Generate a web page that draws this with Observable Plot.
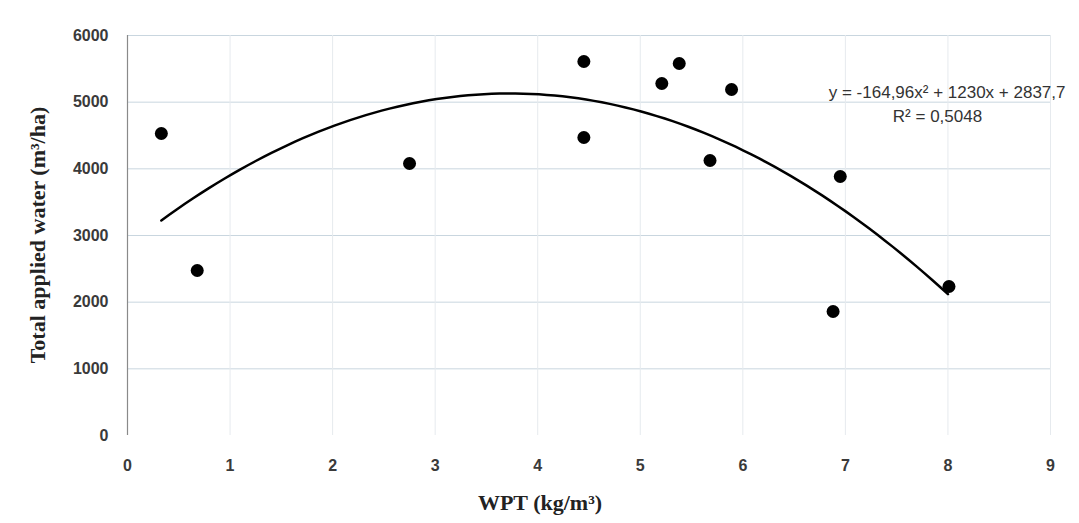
<!DOCTYPE html>
<html>
<head>
<meta charset="utf-8">
<script src="https://cdn.jsdelivr.net/npm/d3@7"></script>
<script src="https://cdn.jsdelivr.net/npm/@observablehq/plot@0.6"></script>
<style>
  html, body { margin: 0; padding: 0; background: #fff; }
  #chart { width: 1079px; height: 523px; }
</style>
</head>
<body>
<div id="chart"></div>
<script>
// Data
const wpt   = [0.33, 0.68, 2.75, 4.45, 4.45, 5.21, 5.38, 5.68, 5.89, 6.95, 6.88, 8.01];
const water = [4530, 2475, 4080, 5610, 4470, 5280, 5580, 4125, 5190, 3885, 1860, 2235];

// Trendline coefficients shown on the chart: y = a x² + b x + c
const trendCoef = [-164.96, 1230, 2837.7];
const trendRange = [0.33, 8.0];

const xTicks = [0, 1, 2, 3, 4, 5, 6, 7, 8, 9];
const yTicks = [0, 1000, 2000, 3000, 4000, 5000, 6000];

const eqLabel = "y = -164,96x² + 1230x + 2837,7";
const r2Label = "R² = 0,5048";

const points = wpt.map((x, i) => ({x, y: water[i]}));
const curve = d3.range(0, 101).map(i => {
  const x = trendRange[0] + (trendRange[1] - trendRange[0]) * i / 100;
  return {x, y: trendCoef[0] * x * x + trendCoef[1] * x + trendCoef[2]};
});

const tickFont = "'Liberation Sans', 'DejaVu Sans', sans-serif";

const chart = Plot.plot({
  width: 1079,
  height: 523,
  marginLeft: 127,
  marginRight: 29,
  marginTop: 35,
  marginBottom: 88,
  style: {background: "#fff", fontFamily: tickFont, fontSize: "15px", color: "#404040"},
  x: {domain: [0, 9], ticks: xTicks, label: null},
  y: {domain: [0, 6000], ticks: yTicks, label: null},
  marks: [
    Plot.gridY(yTicks.filter(d => d > 0), {stroke: "#c9d6df", strokeOpacity: 1, strokeWidth: 1}),
    Plot.gridX(xTicks.filter(d => d > 0), {stroke: "#e6eaee", strokeOpacity: 1, strokeWidth: 1}),
    Plot.ruleX([0], {stroke: "#8a8a8a", strokeWidth: 1.2}),
    Plot.axisX({ticks: xTicks, tickSize: 0, tickPadding: 24, fontSize: 16, fill: "#3a3a3a", fontWeight: "bold", label: null}),
    Plot.axisY({ticks: yTicks, tickSize: 0, tickPadding: 19, fontSize: 16, fill: "#3a3a3a", fontWeight: "bold", tickFormat: d => String(d), label: null}),
    Plot.line(curve, {x: "x", y: "y", stroke: "#000", strokeWidth: 2.5, curve: "linear"}),
    Plot.dot(points, {x: "x", y: "y", r: 6.5, fill: "#000", stroke: "none"}),
    Plot.text([eqLabel], {frameAnchor: "top-right", dx: 15, dy: 50, text: d => d, fontSize: 17, fontFamily: "'Liberation Sans', sans-serif", fill: "#333", textAnchor: "end", letterSpacing: 1.5}),
    Plot.text([r2Label], {frameAnchor: "top-right", dx: -113, dy: 74, text: d => d, fontSize: 17, fontFamily: "'Liberation Sans', sans-serif", fill: "#333", textAnchor: "middle", letterSpacing: 1})
  ]
});

// Axis titles (serif bold)
const svg = d3.select(chart);
svg.append("text")
  .attr("transform", "translate(40,235) rotate(-90)")
  .attr("text-anchor", "middle")
  .attr("dominant-baseline", "middle")
  .style("font-family", "'Liberation Serif', 'DejaVu Serif', serif")
  .style("font-weight", "bold")
  .style("font-size", "22px")
  .style("fill", "#222")
  .text("Total applied water (m³/ha)");
svg.append("text")
  .attr("x", 540)
  .attr("y", 505)
  .attr("text-anchor", "middle")
  .attr("dominant-baseline", "middle")
  .style("font-family", "'Liberation Serif', 'DejaVu Serif', serif")
  .style("font-weight", "bold")
  .style("font-size", "22px")
  .style("fill", "#222")
  .text("WPT (kg/m³)");

document.getElementById("chart").appendChild(chart);
</script>
</body>
</html>
